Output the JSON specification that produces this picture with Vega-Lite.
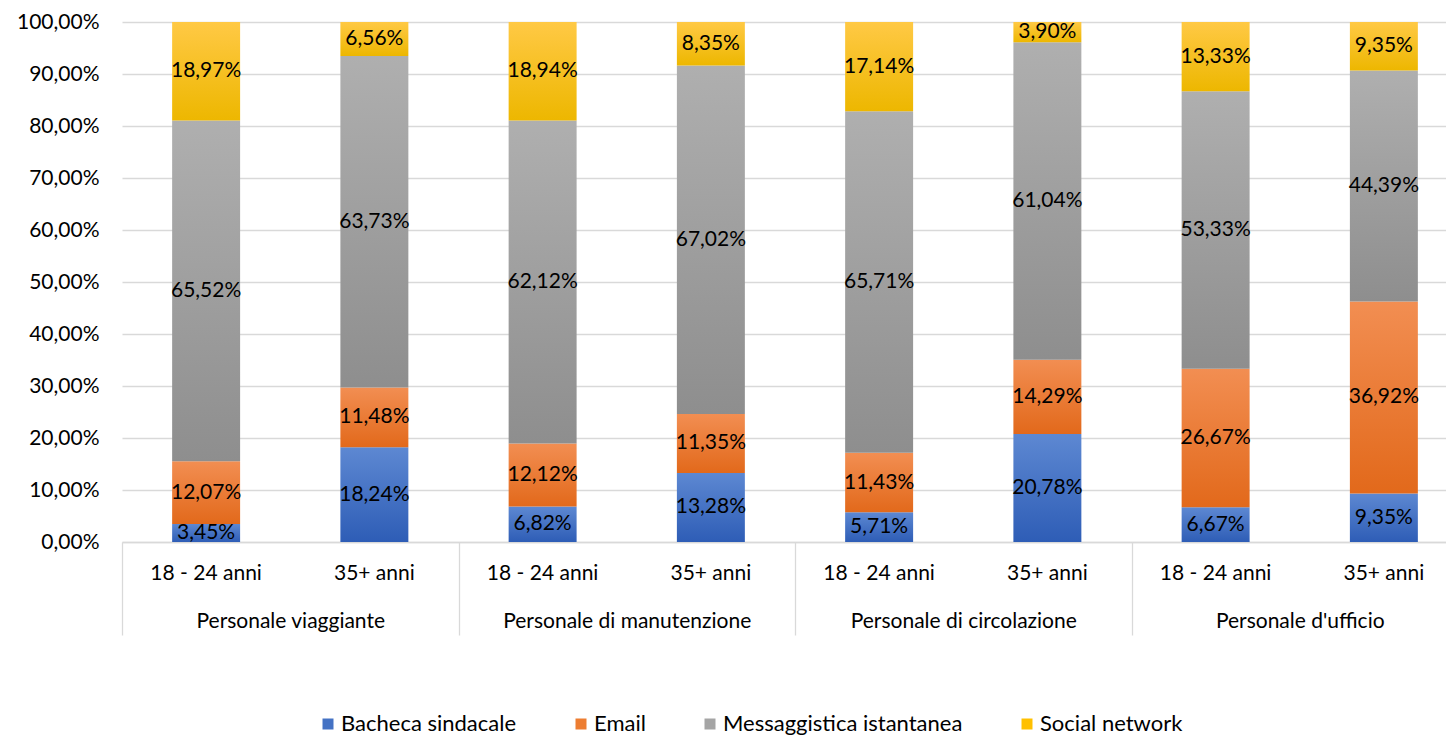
{
  "$schema": "https://vega.github.io/schema/vega-lite/v6.json",
  "width": 1324,
  "height": 520,
  "autosize": "none",
  "padding": {"left": 122, "top": 22, "right": 0, "bottom": 196},
  "config": {
    "locale": {"number": {"decimal": ",", "thousands": ".", "grouping": [3], "currency": ["", " €"]}},
    "view": {"stroke": null},
    "font": "Lato",
    "text": {"font": "Lato"},
    "axis": {"labelFont": "Lato", "labelColor": "#000", "labelFontSize": 21, "titleFont": "Lato", "labelLimit": 0},
    "legend": {"labelFont": "Lato", "labelLimit": 0}
  },
  "data": {
    "values": [
      {"group": "Personale viaggiante", "age": "18 - 24 anni", "key": "Personale viaggiante|18 - 24 anni", "series": "Bacheca sindacale", "value": 0.0345},
      {"group": "Personale viaggiante", "age": "18 - 24 anni", "key": "Personale viaggiante|18 - 24 anni", "series": "Email", "value": 0.1207},
      {"group": "Personale viaggiante", "age": "18 - 24 anni", "key": "Personale viaggiante|18 - 24 anni", "series": "Messaggistica istantanea", "value": 0.6552},
      {"group": "Personale viaggiante", "age": "18 - 24 anni", "key": "Personale viaggiante|18 - 24 anni", "series": "Social network", "value": 0.1897},
      {"group": "Personale viaggiante", "age": "35+ anni", "key": "Personale viaggiante|35+ anni", "series": "Bacheca sindacale", "value": 0.1824},
      {"group": "Personale viaggiante", "age": "35+ anni", "key": "Personale viaggiante|35+ anni", "series": "Email", "value": 0.1148},
      {"group": "Personale viaggiante", "age": "35+ anni", "key": "Personale viaggiante|35+ anni", "series": "Messaggistica istantanea", "value": 0.6373},
      {"group": "Personale viaggiante", "age": "35+ anni", "key": "Personale viaggiante|35+ anni", "series": "Social network", "value": 0.0656},
      {"group": "Personale di manutenzione", "age": "18 - 24 anni", "key": "Personale di manutenzione|18 - 24 anni", "series": "Bacheca sindacale", "value": 0.0682},
      {"group": "Personale di manutenzione", "age": "18 - 24 anni", "key": "Personale di manutenzione|18 - 24 anni", "series": "Email", "value": 0.1212},
      {"group": "Personale di manutenzione", "age": "18 - 24 anni", "key": "Personale di manutenzione|18 - 24 anni", "series": "Messaggistica istantanea", "value": 0.6212},
      {"group": "Personale di manutenzione", "age": "18 - 24 anni", "key": "Personale di manutenzione|18 - 24 anni", "series": "Social network", "value": 0.1894},
      {"group": "Personale di manutenzione", "age": "35+ anni", "key": "Personale di manutenzione|35+ anni", "series": "Bacheca sindacale", "value": 0.1328},
      {"group": "Personale di manutenzione", "age": "35+ anni", "key": "Personale di manutenzione|35+ anni", "series": "Email", "value": 0.1135},
      {"group": "Personale di manutenzione", "age": "35+ anni", "key": "Personale di manutenzione|35+ anni", "series": "Messaggistica istantanea", "value": 0.6702},
      {"group": "Personale di manutenzione", "age": "35+ anni", "key": "Personale di manutenzione|35+ anni", "series": "Social network", "value": 0.0835},
      {"group": "Personale di circolazione", "age": "18 - 24 anni", "key": "Personale di circolazione|18 - 24 anni", "series": "Bacheca sindacale", "value": 0.0571},
      {"group": "Personale di circolazione", "age": "18 - 24 anni", "key": "Personale di circolazione|18 - 24 anni", "series": "Email", "value": 0.1143},
      {"group": "Personale di circolazione", "age": "18 - 24 anni", "key": "Personale di circolazione|18 - 24 anni", "series": "Messaggistica istantanea", "value": 0.6571},
      {"group": "Personale di circolazione", "age": "18 - 24 anni", "key": "Personale di circolazione|18 - 24 anni", "series": "Social network", "value": 0.1714},
      {"group": "Personale di circolazione", "age": "35+ anni", "key": "Personale di circolazione|35+ anni", "series": "Bacheca sindacale", "value": 0.2078},
      {"group": "Personale di circolazione", "age": "35+ anni", "key": "Personale di circolazione|35+ anni", "series": "Email", "value": 0.1429},
      {"group": "Personale di circolazione", "age": "35+ anni", "key": "Personale di circolazione|35+ anni", "series": "Messaggistica istantanea", "value": 0.6104},
      {"group": "Personale di circolazione", "age": "35+ anni", "key": "Personale di circolazione|35+ anni", "series": "Social network", "value": 0.039},
      {"group": "Personale d'ufficio", "age": "18 - 24 anni", "key": "Personale d'ufficio|18 - 24 anni", "series": "Bacheca sindacale", "value": 0.0667},
      {"group": "Personale d'ufficio", "age": "18 - 24 anni", "key": "Personale d'ufficio|18 - 24 anni", "series": "Email", "value": 0.2667},
      {"group": "Personale d'ufficio", "age": "18 - 24 anni", "key": "Personale d'ufficio|18 - 24 anni", "series": "Messaggistica istantanea", "value": 0.5333},
      {"group": "Personale d'ufficio", "age": "18 - 24 anni", "key": "Personale d'ufficio|18 - 24 anni", "series": "Social network", "value": 0.1333},
      {"group": "Personale d'ufficio", "age": "35+ anni", "key": "Personale d'ufficio|35+ anni", "series": "Bacheca sindacale", "value": 0.0935},
      {"group": "Personale d'ufficio", "age": "35+ anni", "key": "Personale d'ufficio|35+ anni", "series": "Email", "value": 0.3692},
      {"group": "Personale d'ufficio", "age": "35+ anni", "key": "Personale d'ufficio|35+ anni", "series": "Messaggistica istantanea", "value": 0.4439},
      {"group": "Personale d'ufficio", "age": "35+ anni", "key": "Personale d'ufficio|35+ anni", "series": "Social network", "value": 0.0935}
    ]
  },
  "layer": [
    {
      "layer": [
        {
          "mark": {"type": "bar", "width": {"band": 0.404}},
          "encoding": {
            "x": {
              "field": "key", "type": "nominal", "sort": null,
              "scale": {"range": [0, 1346], "paddingInner": 0, "paddingOuter": 0},
              "axis": {"title": null, "labelExpr": "split(datum.label, '|')[1]", "labelAngle": 0, "ticks": false, "domain": true, "domainColor": "#D9D9D9", "domainWidth": 1.3, "labelPadding": 20, "grid": false, "orient": "bottom"}
            },
            "y": {
              "field": "value", "type": "quantitative", "stack": "zero",
              "scale": {"domain": [0, 1], "nice": false},
              "axis": {"title": null, "format": ".2%", "values": [0, 0.1, 0.2, 0.3, 0.4, 0.5, 0.6, 0.7, 0.8, 0.9, 1], "domain": false, "ticks": false, "labelPadding": 23, "grid": true, "gridColor": "#D9D9D9", "gridWidth": 1.3}
            },
            "detail": {"field": "series"},
            "order": {"field": "series", "type": "nominal", "sort": "ascending"},
            "fill": {
              "condition": [
                {"test": "datum.series === 'Bacheca sindacale'", "value": {"gradient": "linear", "x1": 0, "y1": 0, "x2": 0, "y2": 1, "stops": [{"offset": 0, "color": "#5D88D2"}, {"offset": 1, "color": "#2E5DB6"}]}},
                {"test": "datum.series === 'Email'", "value": {"gradient": "linear", "x1": 0, "y1": 0, "x2": 0, "y2": 1, "stops": [{"offset": 0, "color": "#F28E52"}, {"offset": 1, "color": "#E2691B"}]}},
                {"test": "datum.series === 'Messaggistica istantanea'", "value": {"gradient": "linear", "x1": 0, "y1": 0, "x2": 0, "y2": 1, "stops": [{"offset": 0, "color": "#AFAFAF"}, {"offset": 1, "color": "#8E8E8E"}]}}
              ],
              "value": {"gradient": "linear", "x1": 0, "y1": 0, "x2": 0, "y2": 1, "stops": [{"offset": 0, "color": "#FFC945"}, {"offset": 1, "color": "#EDB700"}]}
            }
          }
        },
        {
          "mark": {"type": "text", "fontSize": 21, "color": "#000"},
          "encoding": {
            "x": {"field": "key", "type": "nominal", "sort": null},
            "y": {"field": "value", "type": "quantitative", "stack": "zero", "bandPosition": 0.5},
            "detail": {"field": "series"},
            "order": {"field": "series", "type": "nominal", "sort": "ascending"},
            "text": {"field": "value", "type": "quantitative", "format": ".2%"}
          }
        }
      ]
    },
    {
      "mark": {"type": "square", "opacity": 0, "filled": true},
      "encoding": {
        "x": {
          "field": "group", "type": "nominal", "sort": null,
          "scale": {"range": [0, 1346], "paddingInner": 0, "paddingOuter": 0},
          "axis": {"title": null, "orient": "bottom", "labelAngle": 0, "ticks": true, "tickBand": "extent", "tickSize": 93, "tickColor": "#D9D9D9", "tickWidth": 1.3, "domain": false, "labelPadding": -25, "grid": false}
        },
        "y": {"datum": 0},
        "color": {
          "field": "series", "type": "nominal",
          "scale": {"domain": ["Bacheca sindacale", "Email", "Messaggistica istantanea", "Social network"], "range": ["#4472C4", "#ED7D31", "#A5A5A5", "#FFC000"]},
          "legend": {
            "orient": "none", "legendX": 195, "legendY": 691, "direction": "horizontal", "columns": 4, "title": null,
            "symbolType": "square", "symbolSize": 121, "symbolStrokeWidth": 0, "symbolOpacity": 1,
            "labelFontSize": 22, "labelColor": "#000", "labelOffset": 2, "columnPadding": 53,
            "encode": {
              "symbols": {
                "update": {
                  "fill": {"signal": "datum.value === 'Bacheca sindacale' ? {gradient: 'linear', x1: 0, y1: 0, x2: 0, y2: 1, stops: [{offset: 0, color: '#5D88D2'}, {offset: 1, color: '#2E5DB6'}]} : datum.value === 'Email' ? {gradient: 'linear', x1: 0, y1: 0, x2: 0, y2: 1, stops: [{offset: 0, color: '#F28E52'}, {offset: 1, color: '#E2691B'}]} : datum.value === 'Messaggistica istantanea' ? {gradient: 'linear', x1: 0, y1: 0, x2: 0, y2: 1, stops: [{offset: 0, color: '#AFAFAF'}, {offset: 1, color: '#8E8E8E'}]} : {gradient: 'linear', x1: 0, y1: 0, x2: 0, y2: 1, stops: [{offset: 0, color: '#FFC945'}, {offset: 1, color: '#EDB700'}]}"}
                }
              }
            }
          }
        }
      }
    }
  ],
  "resolve": {"scale": {"x": "independent"}}
}
